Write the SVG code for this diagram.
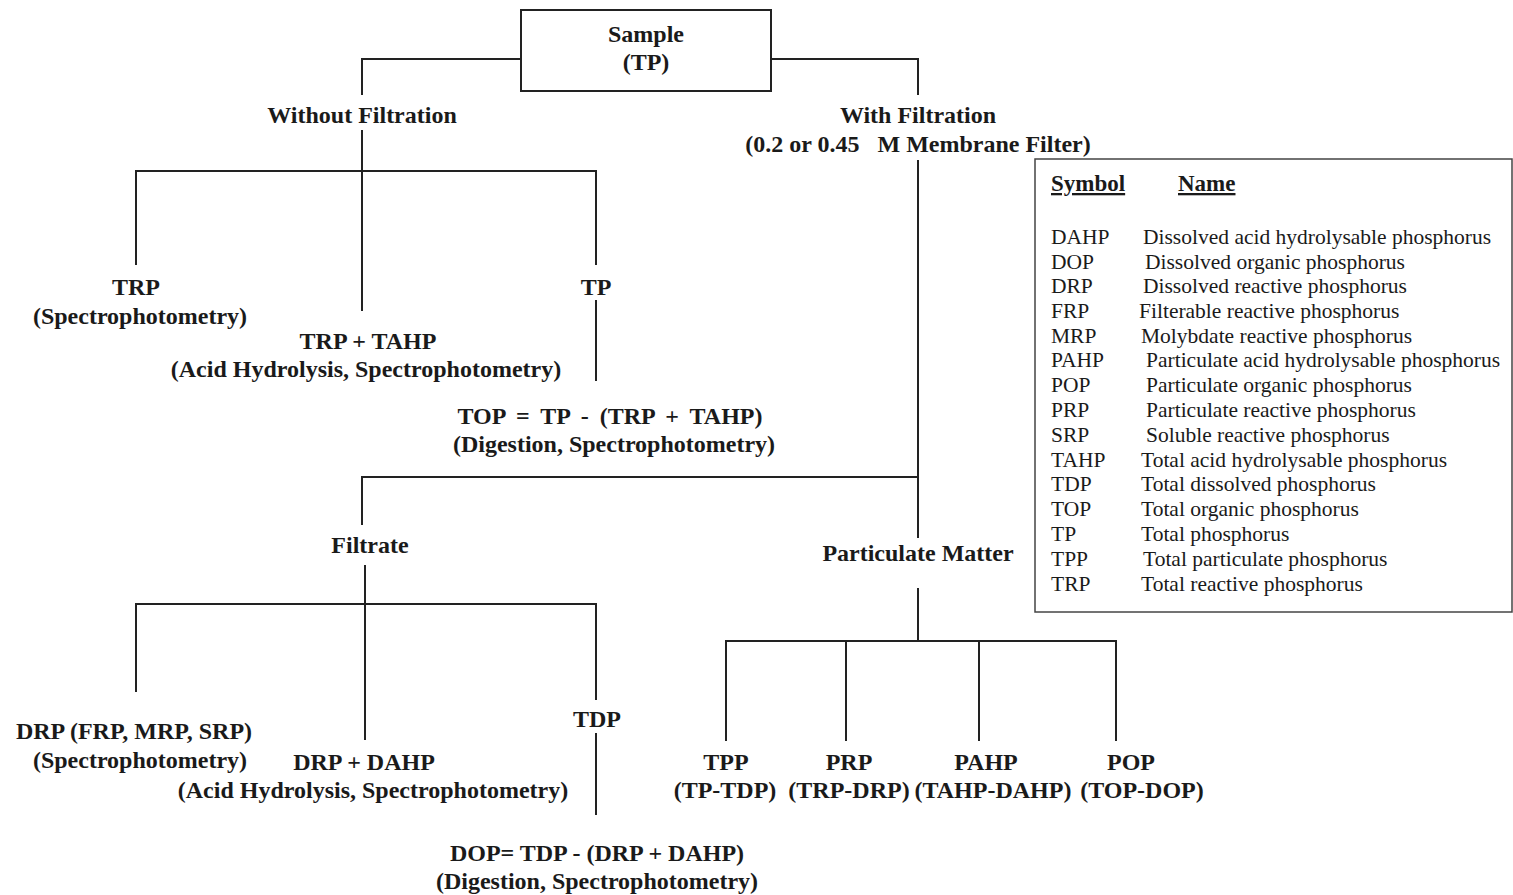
<svg xmlns="http://www.w3.org/2000/svg" width="1513" height="895" viewBox="0 0 1513 895">
<style>
.t{font-family:"Liberation Serif","Times New Roman",serif;font-weight:bold;font-size:24px;fill:#1a1a1a;text-anchor:middle;white-space:pre}
.l{font-family:"Liberation Serif","Times New Roman",serif;font-size:21.5px;fill:#1a1a1a}
.h{font-family:"Liberation Serif","Times New Roman",serif;font-weight:bold;font-size:23px;fill:#1a1a1a;text-decoration:underline}
.c{fill:none;stroke:#222;stroke-width:2}
</style>
<rect width="1513" height="895" fill="#fff"/>
<g id="connectors" class="c">
<polyline points="521,59 362,59 362,95"/>
<polyline points="771,59 918,59 918,95"/>
<line x1="362" y1="130" x2="362" y2="311"/>
<polyline points="136,265 136,171 596,171 596,265"/>
<line x1="596" y1="300" x2="596" y2="381"/>
<line x1="918" y1="160" x2="918" y2="538"/>
<polyline points="362,525 362,477 918,477"/>
<line x1="365" y1="565" x2="365" y2="740"/>
<polyline points="136,692 136,604 596,604 596,700"/>
<line x1="596" y1="733" x2="596" y2="815"/>
<line x1="918" y1="588" x2="918" y2="641"/>
<polyline points="726,741 726,641 1116,641 1116,741"/>
<line x1="846" y1="641" x2="846" y2="741"/>
<line x1="979" y1="641" x2="979" y2="741"/>
</g>
<g id="sample">
<rect x="521" y="10" width="250" height="81" fill="#fff" stroke="#222" stroke-width="2"/>
<text class="t" x="646" y="42">Sample</text>
<text class="t" x="646" y="70">(TP)</text>
</g>
<g id="without"><text class="t" x="362" y="123">Without Filtration</text></g>
<g id="with">
<text class="t" x="918" y="123">With Filtration</text>
<text class="t" x="918" y="152">(0.2 or 0.45   M Membrane Filter)</text>
</g>
<g id="trp">
<text class="t" x="136" y="295">TRP</text>
<text class="t" x="140" y="324">(Spectrophotometry)</text>
</g>
<g id="trptahp">
<text class="t" x="368" y="349">TRP + TAHP</text>
<text class="t" x="366" y="377">(Acid Hydrolysis, Spectrophotometry)</text>
</g>
<g id="tp"><text class="t" x="596" y="295">TP</text></g>
<g id="top">
<text class="t" x="610" y="424" style="word-spacing:5px">TOP = TP - (TRP + TAHP)</text>
<text class="t" x="614" y="452">(Digestion, Spectrophotometry)</text>
</g>
<g id="filtrate"><text class="t" x="370" y="553">Filtrate</text></g>
<g id="particulate"><text class="t" x="918" y="561">Particulate Matter</text></g>
<g id="drp">
<text class="t" x="134" y="739">DRP (FRP, MRP, SRP)</text>
<text class="t" x="140" y="768">(Spectrophotometry)</text>
</g>
<g id="drpdahp">
<text class="t" x="364" y="770">DRP + DAHP</text>
<text class="t" x="373" y="798">(Acid Hydrolysis, Spectrophotometry)</text>
</g>
<g id="tdp"><text class="t" x="597" y="727">TDP</text></g>
<g id="dop">
<text class="t" x="597" y="861">DOP= TDP - (DRP + DAHP)</text>
<text class="t" x="597" y="889">(Digestion, Spectrophotometry)</text>
</g>
<g id="tpp"><text class="t" x="726" y="770">TPP</text><text class="t" x="725" y="798">(TP-TDP)</text></g>
<g id="prp"><text class="t" x="849" y="770">PRP</text><text class="t" x="849" y="798">(TRP-DRP)</text></g>
<g id="pahp"><text class="t" x="986" y="770">PAHP</text><text class="t" x="993" y="798">(TAHP-DAHP)</text></g>
<g id="pop"><text class="t" x="1131" y="770">POP</text><text class="t" x="1142" y="798">(TOP-DOP)</text></g>
<g id="legend">
<rect x="1035" y="159" width="477" height="453" fill="#fff" stroke="#444" stroke-width="1.5"/>
<text class="h" x="1051" y="191">Symbol</text>
<text class="h" x="1178" y="191">Name</text>
<g class="l">
<text x="1051" y="244">DAHP</text><text x="1143" y="244">Dissolved acid hydrolysable phosphorus</text>
<text x="1051" y="269">DOP</text><text x="1145" y="269">Dissolved organic phosphorus</text>
<text x="1051" y="293">DRP</text><text x="1143" y="293">Dissolved reactive phosphorus</text>
<text x="1051" y="318">FRP</text><text x="1139" y="318">Filterable reactive phosphorus</text>
<text x="1051" y="343">MRP</text><text x="1141" y="343">Molybdate reactive phosphorus</text>
<text x="1051" y="367">PAHP</text><text x="1146" y="367">Particulate acid hydrolysable phosphorus</text>
<text x="1051" y="392">POP</text><text x="1146" y="392">Particulate organic phosphorus</text>
<text x="1051" y="417">PRP</text><text x="1146" y="417">Particulate reactive phosphorus</text>
<text x="1051" y="442">SRP</text><text x="1146" y="442">Soluble reactive phosphorus</text>
<text x="1051" y="467">TAHP</text><text x="1141" y="467">Total acid hydrolysable phosphorus</text>
<text x="1051" y="491">TDP</text><text x="1141" y="491">Total dissolved phosphorus</text>
<text x="1051" y="516">TOP</text><text x="1141" y="516">Total organic phosphorus</text>
<text x="1051" y="541">TP</text><text x="1141" y="541">Total phosphorus</text>
<text x="1051" y="566">TPP</text><text x="1143" y="566">Total particulate phosphorus</text>
<text x="1051" y="591">TRP</text><text x="1141" y="591">Total reactive phosphorus</text>
</g>
</g>
</svg>
